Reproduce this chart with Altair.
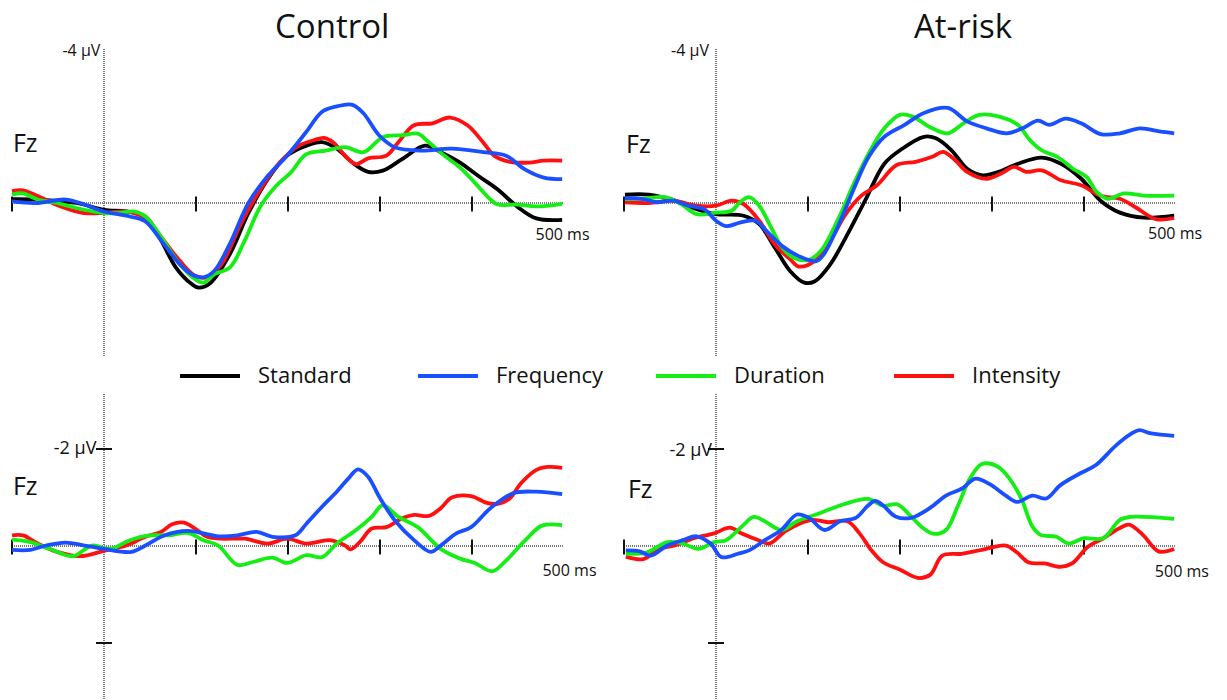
import altair as alt
import pandas as pd

CONDITIONS = ["Standard", "Frequency", "Duration", "Intensity"]
COLORS = ["#000000", "#1a4fff", "#14ee14", "#ff1010"]
DRAW_ORDER = ["Standard", "Intensity", "Duration", "Frequency"]
TICK_MS = [-100, 100, 200, 300, 400]
UV_TICKS = [-2, 2]

# ---- Control, Fz (time ms, amplitude uV; negative plotted up)
CTRL_STD = [(-100,-0.1),(-72,-0.09),(-30,0.0),(0,0.18),(24,0.22),(45,0.35),(62,0.97),(78,1.67),(95,2.1),(103,2.2),(116,2.07),(137,1.32),(157,0.26),(178,-0.62),(199,-1.23),(220,-1.49),(237,-1.58),(253,-1.41),(270,-1.05),(287,-0.81),(303,-0.84),(324,-1.14),(349,-1.49),(366,-1.32),(387,-1.05),(407,-0.70),(428,-0.35),(449,0.09),(470,0.40),(498,0.44)]
CTRL_FREQ = [(-100,-0.04),(-72,0.0),(-42,-0.09),(-21,0.04),(0,0.22),(28,0.35),(45,0.48),(62,0.97),(82,1.58),(95,1.85),(108,1.93),(120,1.76),(137,1.05),(157,0.0),(178,-0.70),(199,-1.23),(220,-1.85),(237,-2.37),(253,-2.51),(270,-2.55),(282,-2.33),(299,-1.76),(316,-1.45),(345,-1.36),(378,-1.41),(412,-1.32),(437,-1.23),(457,-0.88),(478,-0.66),(498,-0.62)]
CTRL_INT = [(-100,-0.31),(-88,-0.33),(-72,-0.18),(-47,0.09),(-22,0.26),(0,0.26),(24,0.22),(45,0.40),(62,0.88),(82,1.49),(99,1.89),(112,1.93),(128,1.58),(149,0.53),(170,-0.35),(191,-1.05),(212,-1.49),(228,-1.63),(239,-1.69),(249,-1.58),(262,-1.23),(274,-1.01),(287,-1.16),(307,-1.23),(320,-1.58),(337,-2.02),(357,-2.07),(376,-2.22),(395,-2.02),(412,-1.58),(424,-1.23),(441,-1.07),(462,-1.05),(478,-1.10),(498,-1.10)]
CTRL_DUR = [(-100,-0.22),(-88,-0.25),(-72,-0.09),(-51,0.0),(-30,0.13),(0,0.26),(16,0.26),(32,0.22),(45,0.35),(62,0.88),(82,1.58),(99,1.98),(108,2.07),(120,1.85),(137,1.67),(153,0.97),(170,0.09),(187,-0.44),(203,-0.79),(220,-1.27),(241,-1.36),(262,-1.45),(282,-1.32),(303,-1.71),(324,-1.76),(341,-1.80),(353,-1.58),(370,-1.23),(387,-0.92),(403,-0.53),(420,-0.09),(428,0.04),(449,0.04),(470,0.09),(498,0.02)]

# ---- At-risk, Fz
RISK_STD = [(-99,-0.22),(-73,-0.22),(-47,-0.08),(-21,0.16),(0,0.29),(30,0.33),(47,0.55),(64,1.16),(81,1.78),(96,2.07),(107,2.04),(124,1.60),(141,0.90),(162,-0.06),(183,-1.02),(200,-1.37),(226,-1.72),(239,-1.68),(256,-1.37),(273,-0.89),(290,-0.72),(307,-0.81),(328,-1.02),(354,-1.18),(375,-1.02),(397,-0.63),(418,-0.06),(439,0.25),(465,0.38),(498,0.33)]
RISK_FREQ = [(-99,-0.13),(-81,-0.11),(-64,-0.02),(-47,-0.06),(-30,0.07),(-13,0.16),(0,0.46),(11,0.60),(26,0.51),(43,0.46),(55,0.73),(72,1.12),(90,1.38),(109,1.51),(117,1.34),(132,0.64),(149,-0.32),(166,-1.20),(183,-1.72),(205,-2.03),(226,-2.34),(252,-2.47),(273,-2.12),(294,-1.94),(316,-1.81),(333,-1.94),(350,-2.14),(362,-2.03),(380,-2.19),(397,-2.07),(418,-1.79),(439,-1.81),(461,-1.94),(482,-1.86),(498,-1.81)]
RISK_INT = [(-99,-0.02),(-73,0.0),(-47,-0.06),(-21,0.07),(0,0.07),(17,-0.06),(30,0.03),(47,0.46),(64,1.08),(81,1.47),(90,1.65),(107,1.51),(124,0.99),(141,0.29),(158,-0.19),(175,-0.46),(196,-0.98),(217,-1.07),(235,-1.20),(247,-1.33),(260,-1.11),(273,-0.81),(294,-0.63),(311,-0.78),(324,-0.94),(337,-0.81),(354,-0.85),(375,-0.59),(397,-0.46),(418,-0.19),(439,-0.11),(456,0.11),(478,0.42),(498,0.39)]
RISK_DUR = [(-99,-0.11),(-81,-0.11),(-55,-0.15),(-38,0.03),(-21,0.29),(0,0.25),(17,0.20),(26,-0.02),(36,-0.15),(47,0.07),(60,0.64),(72,1.16),(85,1.43),(102,1.47),(115,1.21),(132,0.46),(149,-0.46),(166,-1.29),(183,-1.94),(200,-2.29),(213,-2.25),(235,-1.94),(252,-1.81),(269,-2.07),(286,-2.29),(307,-2.25),(328,-2.03),(341,-1.64),(354,-1.37),(371,-1.20),(388,-0.89),(403,-0.67),(414,-0.28),(426,-0.11),(444,-0.25),(465,-0.19),(498,-0.19)]

# ---- Difference waves, Control
DIFF_CTRL_INT = [(-100,-0.22),(-88,-0.22),(-72,-0.05),(-51,0.12),(-26,0.21),(0,0.10),(24,-0.01),(45,-0.19),(62,-0.29),(74,-0.45),(87,-0.48),(99,-0.36),(112,-0.19),(128,-0.15),(153,-0.15),(178,-0.05),(199,-0.15),(220,-0.05),(245,-0.12),(262,-0.01),(268,0.07),(278,-0.08),(291,-0.36),(307,-0.39),(324,-0.57),(337,-0.64),(353,-0.62),(366,-0.78),(378,-1.00),(399,-1.03),(416,-0.89),(428,-0.87),(441,-0.98),(453,-1.29),(470,-1.57),(482,-1.63),(498,-1.61)]
DIFF_CTRL_FREQ = [(-100,0.08),(-80,0.08),(-63,-0.01),(-42,-0.07),(-21,-0.01),(0,0.06),(30,0.12),(45,-0.01),(66,-0.22),(91,-0.31),(108,-0.26),(124,-0.20),(145,-0.22),(166,-0.29),(183,-0.19),(208,-0.22),(220,-0.46),(237,-0.81),(253,-1.12),(266,-1.40),(276,-1.58),(287,-1.43),(299,-1.02),(316,-0.53),(337,-0.12),(355,0.12),(366,-0.01),(383,-0.26),(399,-0.39),(420,-0.78),(445,-1.09),(470,-1.12),(498,-1.07)]
DIFF_CTRL_DUR = [(-100,-0.13),(-80,-0.08),(-59,0.06),(-34,0.21),(-13,-0.01),(7,0.06),(28,-0.12),(49,-0.22),(70,-0.22),(91,-0.27),(108,-0.12),(124,-0.01),(145,0.39),(162,0.33),(183,0.24),(199,0.35),(220,0.19),(237,0.23),(253,-0.05),(274,-0.33),(291,-0.60),(303,-0.84),(320,-0.60),(341,-0.39),(366,0.06),(387,0.26),(403,0.35),(422,0.52),(437,0.30),(458,-0.12),(476,-0.42),(498,-0.43)]

# ---- Difference waves, At-risk
DIFF_RISK_FREQ = [(-98,0.09),(-83,0.11),(-71,0.20),(-53,-0.01),(-36,-0.12),(-21,-0.20),(-6,-0.05),(6,0.23),(24,0.16),(36,0.09),(53,-0.12),(71,-0.33),(88,-0.65),(101,-0.58),(118,-0.33),(135,-0.51),(152,-0.58),(165,-0.83),(173,-0.93),(182,-0.83),(195,-0.61),(212,-0.58),(233,-0.79),(250,-1.04),(267,-1.18),(282,-1.39),(297,-1.28),(315,-1.04),(327,-0.91),(344,-1.04),(359,-0.98),(374,-1.25),(396,-1.50),(413,-1.67),(434,-2.06),(451,-2.31),(460,-2.39),(473,-2.32),(498,-2.27)]
DIFF_RISK_INT = [(-98,0.22),(-79,0.27),(-62,0.06),(-45,-0.01),(-24,-0.16),(-2,-0.26),(15,-0.38),(28,-0.26),(45,-0.13),(58,-0.05),(75,-0.30),(92,-0.47),(105,-0.54),(122,-0.49),(143,-0.51),(156,-0.26),(169,0.09),(182,0.34),(199,0.48),(220,0.66),(233,0.59),(246,0.20),(267,0.16),(289,0.08),(315,-0.01),(327,0.13),(340,0.34),(357,0.36),(374,0.43),(387,0.36),(404,0.02),(421,-0.16),(439,-0.37),(449,-0.44),(464,-0.23),(481,0.11),(498,0.06)]
DIFF_RISK_DUR = [(-98,0.16),(-75,0.13),(-53,-0.08),(-36,-0.05),(-19,0.06),(-2,-0.08),(11,-0.12),(28,-0.40),(41,-0.60),(53,-0.51),(71,-0.33),(88,-0.51),(109,-0.65),(139,-0.86),(165,-0.97),(182,-0.83),(197,-0.86),(212,-0.61),(225,-0.37),(237,-0.25),(250,-0.33),(263,-0.83),(276,-1.39),(289,-1.69),(306,-1.64),(319,-1.39),(332,-0.97),(344,-0.40),(353,-0.23),(370,-0.19),(383,-0.05),(400,-0.16),(421,-0.16),(439,-0.54),(451,-0.60),(498,-0.56)]

FONT = "Open Sans"
DOT = "#7a7a7a"

LEGEND = alt.Legend(
    title=None, orient="none", legendX=178, legendY=344,
    direction="horizontal", columns=4, gridAlign="all", columnPadding=44,
    symbolType="stroke", symbolSize=3600, symbolStrokeWidth=4,
    labelFontSize=22, labelFont=FONT, labelColor="#111111", labelOffset=16,
    labelLimit=300,
)

ONE = pd.DataFrame({"k": [0]})


def frame(series):
    rows = []
    for cond in DRAW_ORDER:
        if cond in series:
            for t, v in series[cond]:
                rows.append({"t": t, "v": v, "cond": cond})
    return pd.DataFrame(rows)


def panel(series, xdom, ydom, w, h, vaxis, texts, uv_ticks=False):
    xs = alt.Scale(domain=xdom, nice=False, zero=False)
    ys = alt.Scale(domain=ydom, nice=False, zero=False, reverse=True)
    X = lambda f: alt.X(f, scale=xs, axis=None)
    Y = lambda f: alt.Y(f, scale=ys, axis=None)

    base_line = alt.Chart(ONE).mark_rule(color=DOT, strokeWidth=2, strokeDash=[1, 1]).encode(
        x=alt.X(datum=-100, scale=xs, axis=None), x2=alt.datum(500),
        y=alt.Y(datum=0, scale=ys, axis=None))
    v_axis = alt.Chart(ONE).mark_rule(color=DOT, strokeWidth=2, strokeDash=[1, 1]).encode(
        x=alt.X(datum=0, scale=xs, axis=None),
        y=alt.Y(datum=vaxis[0], scale=ys, axis=None), y2=alt.datum(vaxis[1]))
    ticks = alt.Chart(pd.DataFrame({"t": TICK_MS})).mark_tick(
        orient="vertical", size=15, thickness=2, color="#111111", yOffset=1, opacity=1).encode(
        x=X("t:Q"), y=alt.Y(datum=0, scale=ys, axis=None))
    layers = [base_line, v_axis, ticks]
    if uv_ticks:
        layers.append(alt.Chart(pd.DataFrame({"v": UV_TICKS})).mark_tick(
            orient="horizontal", size=16, thickness=2, color="#111111", opacity=1).encode(
            x=alt.X(datum=0, scale=xs, axis=None), y=Y("v:Q")))
    lines = alt.Chart(frame(series)).mark_line(strokeWidth=3.8, interpolate="catmull-rom").encode(
        x=X("t:Q"), y=Y("v:Q"),
        color=alt.Color("cond:N", scale=alt.Scale(domain=CONDITIONS, range=COLORS), legend=LEGEND),
        detail="cond:N",
    )
    layers.append(lines)
    for txt, tx, ty, size, align in texts:
        layers.append(alt.Chart(ONE).mark_text(
            text=txt, font=FONT, fontSize=size, align=align, baseline="middle", color="#111111").encode(
            x=alt.X(datum=tx, scale=xs, axis=None), y=alt.Y(datum=ty, scale=ys, axis=None)))
    return alt.layer(*layers).properties(width=w, height=h)


LEFT_X = [-113.043, 549.996]
RIGHT_X = [-115.217, 555.435]
TOP_Y = [-5.2727, 4.0779]
BOT_Y = [-3.2165, 3.1753]

top_left = panel(
    {"Standard": CTRL_STD, "Frequency": CTRL_FREQ, "Duration": CTRL_DUR, "Intensity": CTRL_INT},
    LEFT_X, TOP_Y, 610, 360, (-4, 4),
    [("Control", 248, -4.545, 33, "center"), ("-4 µV", -4, -3.95, 16, "right"),
     ("Fz", -99, -1.53, 25, "left"), ("500 ms", 469, 0.83, 16, "left")])
top_right = panel(
    {"Standard": RISK_STD, "Frequency": RISK_FREQ, "Duration": RISK_DUR, "Intensity": RISK_INT},
    RIGHT_X, TOP_Y, 617, 360, (-4, 4),
    [("At-risk", 268.5, -4.545, 33, "center"), ("-4 µV", -7.6, -3.95, 16, "right"),
     ("Fz", -97.8, -1.51, 25, "left"), ("500 ms", 469.6, 0.81, 16, "left")])
bot_left = panel(
    {"Frequency": DIFF_CTRL_FREQ, "Duration": DIFF_CTRL_DUR, "Intensity": DIFF_CTRL_INT},
    LEFT_X, BOT_Y, 610, 310, (-3.134, 3.1753),
    [("-2 µV", -8.2, -2.0, 18, "right"), ("Fz", -99, -1.22, 25, "left"),
     ("500 ms", 476.6, 0.52, 16, "left")], uv_ticks=True)
bot_right = panel(
    {"Frequency": DIFF_RISK_FREQ, "Duration": DIFF_RISK_DUR, "Intensity": DIFF_RISK_INT},
    RIGHT_X, BOT_Y, 617, 310, (-3.134, 3.1753),
    [("-2 µV", -4.3, -1.95, 18, "right"), ("Fz", -95.7, -1.15, 25, "left"),
     ("500 ms", 477, 0.54, 16, "left")], uv_ticks=True)

chart = alt.concat(
    top_left, top_right, bot_left, bot_right,
    columns=2, spacing={"row": 30, "column": 0}, bounds="flush", align="each",
).properties(padding=0, background="white").configure_view(strokeWidth=0)

chart.save("out.html", embed_options={"renderer": "svg", "actions": False})
